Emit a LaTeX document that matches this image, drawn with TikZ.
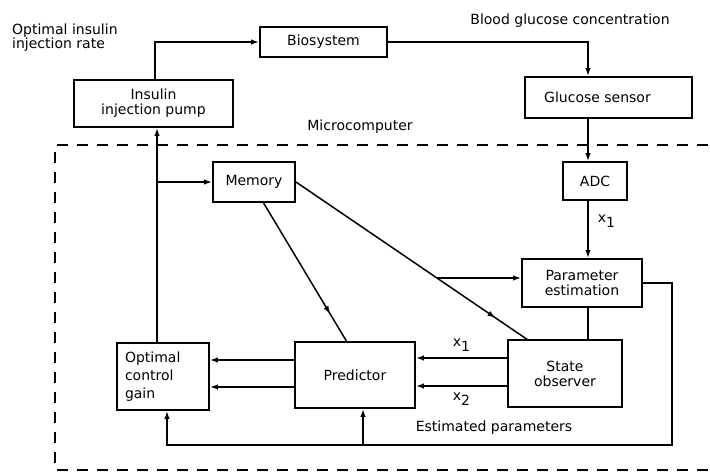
\documentclass[tikz,border=0pt]{standalone}
\usepackage{fontspec}
\setmainfont{DejaVu Sans}
\usetikzlibrary{arrows.meta,decorations.markings}
\begin{document}
\begin{tikzpicture}[x=1pt,y=-1pt,
  txt/.style={font=\fontsize{14}{15}\selectfont, inner sep=0pt},
  block/.style={draw, line width=1.9pt, txt, align=center},
  conn/.style={line width=1.5pt},
  arr/.style={conn, -{Latex[length=8pt,width=5.5pt]}},
  midarr/.style={conn, postaction={decorate}, decoration={markings,
      mark=at position #1 with {\arrow{Latex[length=8pt,width=5.5pt]}}}},
  frame/.style={line width=2.2pt, dash pattern=on 11pt off 9pt}]
\useasboundingbox (0,0) rectangle (710,474);

% blocks
\node[block, minimum width=127pt, minimum height=30pt] (bio) at (323.5,42) {Biosystem};
\node[block, minimum width=159pt, minimum height=47pt] (pump) at (153.5,103.5) {Insulin\\injection pump};
\node[block, minimum width=167pt, minimum height=41pt] (sensor) at (608.5,97.5) {Glucose sensor\hspace{22pt}};
\node[block, minimum width=64pt, minimum height=38pt] (adc) at (595,181) {ADC};
\node[block, minimum width=82pt, minimum height=40pt] (mem) at (254,182) {Memory};
\node[block, minimum width=120pt, minimum height=48pt] (pe) at (582,283) {Parameter\\estimation};
\node[block, minimum width=114pt, minimum height=67pt] (so) at (565,373.5) {State\\observer};
\node[block, minimum width=120pt, minimum height=66pt] (pred) at (355,375) {Predictor};
\node[block, minimum height=67pt, text width=76pt, inner xsep=8pt, align=left,
      font=\fontsize{14}{18}\selectfont] (ocg) at (163,376.5) {Optimal\\control\\gain};

% free labels
\node[txt, align=left, anchor=north west, font=\fontsize{14}{14}\selectfont] (lrate) at (12,24) {Optimal insulin\\injection rate};
\node[txt] (lconc) at (570,21) {Blood glucose concentration};
\node[txt] (lmc) at (360,127) {Microcomputer};
\node[txt] (lest) at (494,428) {Estimated parameters};

% routing points
\coordinate (xa) at (155,42);
\coordinate (xb) at (588,42);
\coordinate (xc) at (672,445);
\coordinate (xd) at (167,445);
\coordinate (xe) at (363,445);
\coordinate (xf) at (157,182);
\coordinate (ya) at (0,358);
\coordinate (yb) at (0,386);
\coordinate (yc) at (0,360);
\coordinate (yd) at (0,387);
\coordinate (m1) at (263,202);
\coordinate (p1) at (347,342);
\coordinate (s1) at (528,340);
\coordinate (bp) at (437,278);

% outer loop
\draw[arr] (xa |- pump.north) -- (xa) -- (bio.west);
\draw[arr] (bio.east) -- (xb) -- (xb |- sensor.north);
\draw[arr] (xb |- sensor.south) -- (xb |- adc.north);
\draw[arr] (xb |- adc.south) -- node[txt, right=9pt, pos=0.35] (lx1a) {x\raisebox{-5pt}{1}} (xb |- pe.north);
\draw[conn] (xb |- pe.south) -- (xb |- so.north);

% estimated parameters feedback
\draw[arr] (pe.east) -- (xc |- pe.east) -- (xc) -- (xd) -- (xd |- ocg.south);
\draw[arr] (xe) -- (xe |- pred.south);

% states to predictor, predictor to gain
\draw[arr] (so.west |- ya) -- node[txt, above=6pt] (lx1b) {x\raisebox{-5pt}{1}} (pred.east |- ya);
\draw[arr] (so.west |- yb) -- node[txt, below=6pt] (lx2) {x\raisebox{-5pt}{2}} (pred.east |- yb);
\draw[arr] (pred.west |- yc) -- (ocg.east |- yc);
\draw[arr] (pred.west |- yd) -- (ocg.east |- yd);

% control output and memory
\draw[arr] (xf |- ocg.north) -- (xf |- pump.south);
\draw[arr] (xf) -- (mem.west |- xf);
\draw[midarr=0.8] (m1) -- (p1);
\draw[midarr=0.86] (mem.east) -- (s1);
\draw[arr] (bp) -- (pe.west |- bp);

% microcomputer boundary
\draw[frame] (708,145) -- (50,145);
\draw[frame] (55,152) -- (55,470) -- (708,470);
\end{tikzpicture}
\end{document}
